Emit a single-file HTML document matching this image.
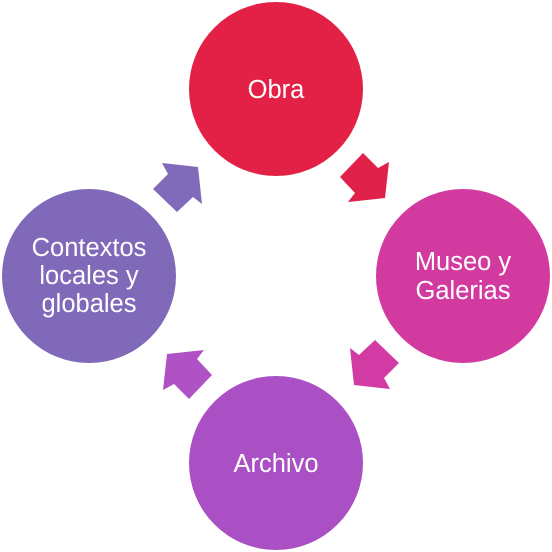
<!DOCTYPE html>
<html><head><style>
html,body{margin:0;padding:0;background:#fff;}
svg{display:block}
text{font-family:"Liberation Sans",sans-serif;font-size:25.5px;fill:#fff;text-anchor:middle}
</style></head><body>
<svg width="552" height="552" viewBox="0 0 552 552">
<defs><polygon id="a" points="340,177 363,153 378,168 389,162 385,198 348,202 355,193"/></defs>
<use href="#a" fill="#e0214a"/>
<use href="#a" fill="#d23ba3" transform="rotate(90 276 276)"/>
<use href="#a" fill="#b052c6" transform="rotate(180 276 276)"/>
<use href="#a" fill="#7f6bb9" transform="rotate(270 276 276)"/>
<circle cx="276" cy="89" r="87" fill="#e32046"/>
<circle cx="463" cy="276" r="87" fill="#d23aa0"/>
<circle cx="276" cy="463" r="87" fill="#aa50c4"/>
<circle cx="89" cy="276" r="87" fill="#7f69b8"/>
<text x="276" y="98">Obra</text>
<text x="463" y="270">Museo y</text>
<text x="463" y="299">Galerias</text>
<text x="276" y="472">Archivo</text>
<text x="89" y="256">Contextos</text>
<text x="89" y="284">locales y</text>
<text x="89" y="312">globales</text>
</svg>
</body></html>
